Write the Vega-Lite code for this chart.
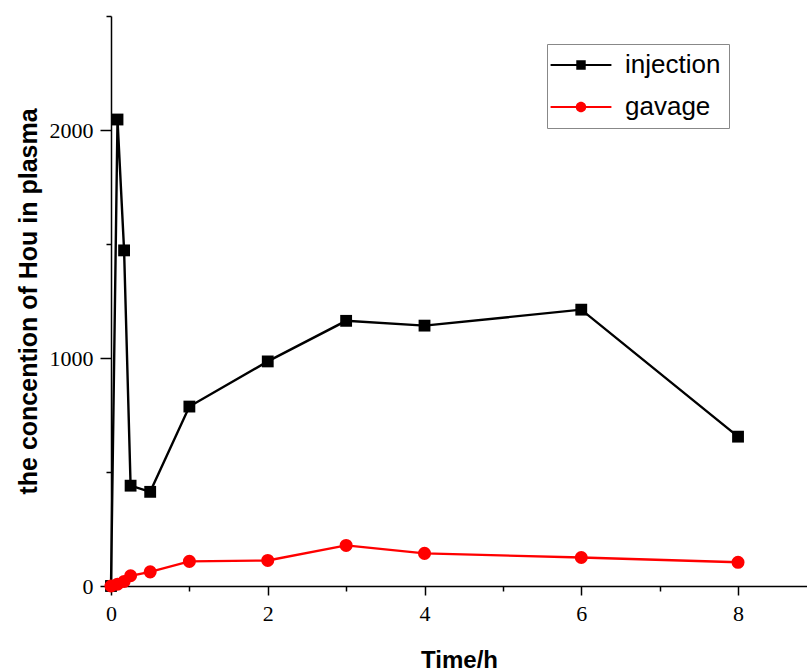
{
  "$schema": "https://vega.github.io/schema/vega-lite/v6.json",
  "width": 696,
  "height": 570,
  "autosize": {"type": "none"},
  "padding": {"left": 111, "top": 16, "right": 0, "bottom": 86},
  "background": "white",
  "config": {"view": {"stroke": null}},
  "data": {
    "values": [
      {"time": 0, "conc": 0, "group": "injection"},
      {"time": 0.083, "conc": 2046, "group": "injection"},
      {"time": 0.167, "conc": 1472, "group": "injection"},
      {"time": 0.25, "conc": 440, "group": "injection"},
      {"time": 0.5, "conc": 413, "group": "injection"},
      {"time": 1, "conc": 787, "group": "injection"},
      {"time": 2, "conc": 985, "group": "injection"},
      {"time": 3, "conc": 1163, "group": "injection"},
      {"time": 4, "conc": 1142, "group": "injection"},
      {"time": 6, "conc": 1212, "group": "injection"},
      {"time": 8, "conc": 655, "group": "injection"},
      {"time": 0, "conc": 0, "group": "gavage"},
      {"time": 0.083, "conc": 8, "group": "gavage"},
      {"time": 0.167, "conc": 20, "group": "gavage"},
      {"time": 0.25, "conc": 45, "group": "gavage"},
      {"time": 0.5, "conc": 62, "group": "gavage"},
      {"time": 1, "conc": 108, "group": "gavage"},
      {"time": 2, "conc": 112, "group": "gavage"},
      {"time": 3, "conc": 178, "group": "gavage"},
      {"time": 4, "conc": 143, "group": "gavage"},
      {"time": 6, "conc": 125, "group": "gavage"},
      {"time": 8, "conc": 104, "group": "gavage"}
    ]
  },
  "encoding": {
    "x": {
      "field": "time",
      "type": "quantitative",
      "scale": {"domain": [0, 8.88], "nice": false},
      "axis": {
        "title": "Time/h",
        "titleFont": "Liberation Sans",
        "titleFontSize": 24,
        "titleFontWeight": "bold",
        "titleColor": "black",
        "titlePadding": 24,
        "values": [0, 1, 2, 3, 4, 5, 6, 7, 8],
        "labelExpr": "datum.value % 2 === 0 ? datum.label : ''",
        "labelFont": "Liberation Serif",
        "labelFontSize": 22,
        "labelColor": "black",
        "labelPadding": 8,
        "labelFlush": false,
        "domainColor": "black",
        "domainWidth": 1.5,
        "tickColor": "black",
        "tickWidth": 1.5,
        "tickSize": {"condition": {"test": "datum.value % 2 === 1", "value": 5}, "value": 9},
        "grid": false
      }
    },
    "y": {
      "field": "conc",
      "type": "quantitative",
      "scale": {"domain": [0, 2500], "nice": false},
      "axis": {
        "title": "the concention of Hou in plasma",
        "titleFont": "Liberation Sans",
        "titleFontSize": 25,
        "titleFontWeight": "bold",
        "titleColor": "black",
        "titlePadding": 8,
        "values": [0, 500, 1000, 1500, 2000, 2500],
        "labelExpr": "datum.value % 1000 === 0 ? datum.label : ''",
        "format": "d",
        "labelFont": "Liberation Serif",
        "labelFontSize": 22,
        "labelColor": "black",
        "labelPadding": 7,
        "domainColor": "black",
        "domainWidth": 1.5,
        "tickColor": "black",
        "tickWidth": 1.5,
        "tickSize": {"condition": {"test": "datum.value % 1000 === 500", "value": 5}, "value": 11},
        "grid": false
      }
    },
    "color": {
      "field": "group",
      "type": "nominal",
      "scale": {"domain": ["injection", "gavage"], "range": ["#000000", "#ff0000"]},
      "legend": {
        "title": null,
        "orient": "none",
        "legendX": 436,
        "legendY": 28,
        "labelFont": "Liberation Sans",
        "labelFontSize": 26,
        "labelColor": "black",
        "labelOffset": 31,
        "symbolOffset": 13,
        "symbolSize": 110,
        "symbolType": "M-5.8,-0.2H5.8V0.2H-5.8Z M-0.9,-0.9H0.9V0.9H-0.9Z",
        "rowPadding": 16,
        "padding": 8,
        "strokeColor": "#888888",
        "fillColor": "white",
        "encode": {
          "symbols": {
            "update": {
              "shape": {"signal": "datum.value === 'injection' ? 'M-5.8,-0.2H5.8V0.2H-5.8Z M-0.9,-0.9H0.9V0.9H-0.9Z' : 'M-5.8,-0.2H5.8V0.2H-5.8Z M-1,0A1,1 0 1,1 1,0A1,1 0 1,1 -1,0Z'"},
              "fill": {"signal": "datum.value === 'injection' ? '#000000' : '#ff0000'"},
              "fillOpacity": {"value": 1},
              "opacity": {"value": 1},
              "strokeWidth": {"value": 0}
            }
          }
        }
      }
    }
  },
  "layer": [
    {"mark": {"type": "line", "strokeWidth": 2.4}},
    {
      "transform": [{"filter": "datum.group === 'injection'"}],
      "mark": {"type": "point", "filled": true, "opacity": 1, "shape": "square", "size": 140}
    },
    {
      "transform": [{"filter": "datum.group === 'gavage'"}],
      "mark": {"type": "point", "filled": true, "opacity": 1, "shape": "circle", "size": 170}
    }
  ]
}
